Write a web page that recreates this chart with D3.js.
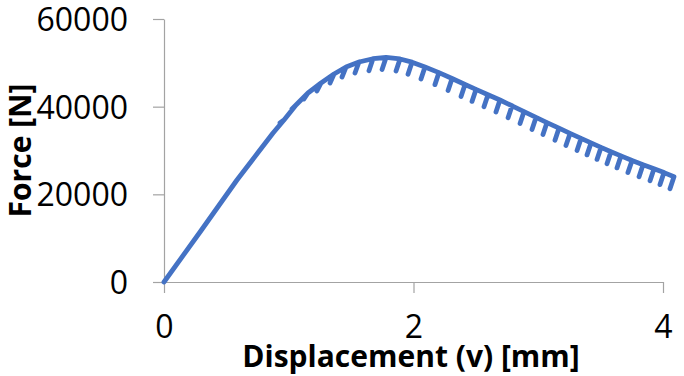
<!DOCTYPE html>
<html>
<head>
<meta charset="utf-8">
<script src="https://cdn.jsdelivr.net/npm/d3@7"></script>
<style>
  html, body { margin: 0; padding: 0; background: #fff; }
  svg { display: block; }
</style>
</head>
<body>
<svg id="chart" width="684" height="376"></svg>
<script>
// ---- Data ----
const xTicks = [0, 2, 4];
const yTicks = [0, 20000, 40000, 60000];
const xTitle = "Displacement (v) [mm]";
const yTitle = "Force [N]";

// Initial loading branch, before the unloading cycles start
const loadDisp  = [0, 0.289, 0.585, 0.874];
const loadForce = [0, 11410, 23270, 33990];

// Each unloading cycle: peak on the envelope, then the low tip of the cycle
const peakDisp  = [0.962, 1.058, 1.154, 1.259, 1.363, 1.459, 1.563, 1.675, 1.780, 1.892,
                   1.988, 2.092, 2.204, 2.309, 2.413, 2.501, 2.597, 2.693, 2.790, 2.886,
                   2.982, 3.070, 3.166, 3.255, 3.343, 3.423, 3.503, 3.583, 3.663, 3.752,
                   3.840, 3.928, 4.008, 4.088];
const peakForce = [36960, 40380, 43120, 45400, 47450, 49050, 50190, 50940, 51220, 50880,
                   50150, 49050, 47770, 46430, 45060, 43940, 42730, 41520, 40200, 38880,
                   37550, 36370, 35090, 33900, 32760, 31730, 30710, 29730, 28770, 27700,
                   26760, 25830, 24960, 24000];
const tipDisp   = [0.930, 1.026, 1.122, 1.226, 1.331, 1.427, 1.531, 1.643, 1.748, 1.860,
                   1.956, 2.060, 2.172, 2.277, 2.381, 2.469, 2.565, 2.661, 2.758, 2.854,
                   2.950, 3.038, 3.134, 3.222, 3.311, 3.391, 3.471, 3.551, 3.631, 3.719,
                   3.808, 3.896, 3.976, 4.056];
const tipForce  = [36270, 39470, 41750, 43570, 45400, 46770, 47680, 48210, 48480, 48140,
                   47410, 46310, 45030, 43690, 42320, 41200, 39990, 38780, 37460, 36140,
                   34810, 33630, 32350, 31160, 30020, 29000, 27970, 26990, 26030, 24960,
                   24020, 23090, 22220, 21260];

// ---- Build the point sequence from the arrays ----
const series = [];
loadDisp.forEach((d, i) => series.push([d, loadForce[i]]));
peakDisp.forEach((d, i) => {
  series.push([d, peakForce[i]]);
  series.push([tipDisp[i], tipForce[i]]);
  series.push([d, peakForce[i]]);
});

// ---- Chart ----
const svg = d3.select("#chart");
const x = d3.scaleLinear().domain([0, 4]).range([164, 663]);
const y = d3.scaleLinear().domain([0, 60000]).range([282, 19]);

const axisColor = "#a3a3a3";
const font = "'Open Sans', 'DejaVu Sans', sans-serif";

const gx = svg.append("g")
  .attr("transform", "translate(0,282)")
  .call(d3.axisBottom(x).tickValues(xTicks).tickSize(11).tickSizeOuter(0).tickFormat(d3.format("d")));
const gy = svg.append("g")
  .attr("transform", "translate(164,0)")
  .call(d3.axisLeft(y).tickValues(yTicks).tickSize(11).tickSizeOuter(0).tickPadding(25).tickFormat(d3.format("d")));

[gx, gy].forEach(g => {
  g.select(".domain").attr("stroke", axisColor).attr("stroke-width", 1.2);
  g.selectAll(".tick line").attr("stroke", axisColor).attr("stroke-width", 1.2);
  g.selectAll(".tick text")
    .attr("fill", "#000")
    .style("font-family", font)
    .style("font-size", "32px");
});
gx.selectAll(".tick text").attr("y", 0).attr("dy", 0).attr("transform", "translate(0,56)");
gy.selectAll(".tick text").attr("dy", "0.36em");

// Data line
const line = d3.line().x(d => x(d[0])).y(d => y(d[1]));
svg.append("path")
  .datum(series)
  .attr("d", line)
  .attr("fill", "none")
  .attr("stroke", "#4472C4")
  .attr("stroke-width", 4.8)
  .attr("stroke-linejoin", "round")
  .attr("stroke-linecap", "round");

// Axis titles
svg.append("text")
  .attr("x", 411)
  .attr("y", 367)
  .attr("text-anchor", "middle")
  .style("font-family", font)
  .style("font-weight", "bold")
  .style("font-size", "30px")
  .attr("fill", "#000")
  .text(xTitle);

svg.append("text")
  .attr("transform", "translate(31,150.5) rotate(-90)")
  .attr("text-anchor", "middle")
  .style("font-family", font)
  .style("font-weight", "bold")
  .style("font-size", "30px")
  .attr("fill", "#000")
  .text(yTitle);
</script>
</body>
</html>
